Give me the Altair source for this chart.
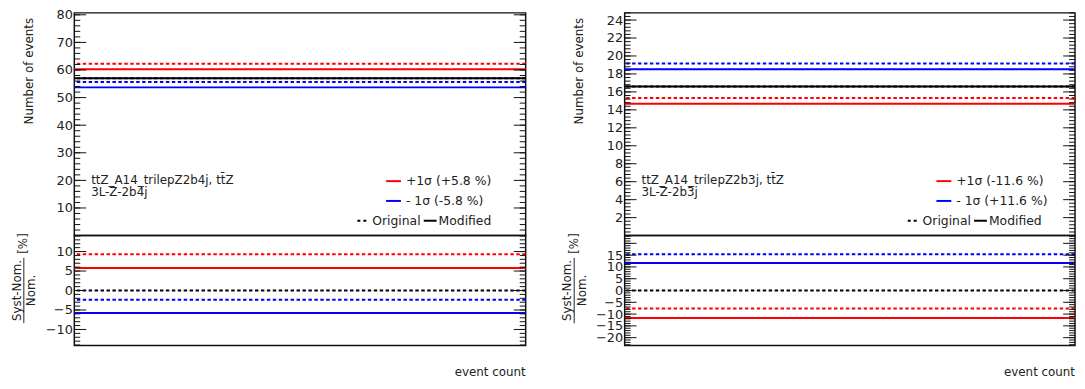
import altair as alt
import numpy as np
import pandas as pd

# ---------------- data ----------------
SERIES = ["nominal", "up", "down"]
COLORS = ["#000000", "#ff0000", "#0000ff"]

LEFT_MOD = [57.0, 60.3, 53.7]        # Modified (solid)
LEFT_ORIG = [57.0, 62.3, 55.65]      # Original (dashed)
RIGHT_MOD = [16.6, 14.67, 18.53]
RIGHT_ORIG = [16.6, 15.33, 19.15]

LEFT_LABEL = ["ttZ_A14_trilepZ2b4j, tt\u0304Z", "3L-Z-2b4j"]
RIGHT_LABEL = ["ttZ_A14_trilepZ2b3j, tt\u0304Z", "3L-Z-2b3j"]
LEFT_LEGEND = ["+1\u03c3 (+5.8 %)", "- 1\u03c3 (-5.8 %)"]
RIGHT_LEGEND = ["+1\u03c3 (-11.6 %)", "- 1\u03c3 (+11.6 %)"]

LEFT_TOP_DOMAIN = [0, 80.7]
RIGHT_TOP_DOMAIN = [0, 24.8]
LEFT_RAT_DOMAIN = [-14.1, 14.1]
RIGHT_RAT_DOMAIN = [-23.3, 23.3]

LEFT_TOP_LABELS = [10, 20, 30, 40, 50, 60, 70, 80]
RIGHT_TOP_LABELS = [2, 4, 6, 8, 10, 12, 14, 16, 18, 20, 22, 24]
LEFT_RAT_LABELS = [-10, -5, 0, 5, 10]
RIGHT_RAT_LABELS = [-20, -15, -10, -5, 0, 5, 10, 15]

# ---------------- layout ----------------
TOP_H = 225
RAT_H = 111
W_L = 456
W_R = 455
FONT = "DejaVu Sans"
TXT = "#222222"
ONE = pd.DataFrame({"k": [0]})


def text(txt, x, y, size=12, align="left", baseline="middle", angle=0):
    return alt.Chart(ONE).mark_text(
        text=txt, font=FONT, fontSize=size, color=TXT, align=align,
        baseline=baseline, angle=angle
    ).encode(x=alt.value(x), y=alt.value(y))


def hseg(x0, x1, y, color, dash=None, width=2):
    kw = dict(color=color, strokeWidth=width)
    if dash:
        kw["strokeDash"] = dash
    return alt.Chart(ONE).mark_rule(**kw).encode(
        x=alt.value(x0), x2=alt.value(x1), y=alt.value(y))


def make_axis(labels):
    return alt.Axis(values=labels, ticks=False, tickSize=0, domain=False, grid=False,
                    title=None, labelFontSize=13, labelFont=FONT, labelColor=TXT,
                    labelPadding=2, format="d", labelFlush=False, labelOverlap=False,
                    labelBound=False)


def ticks(vals, length, yscale, W, axis):
    df = pd.DataFrame({"v": vals})
    base = alt.Chart(df).mark_rule(color="#111111", strokeWidth=1)
    left = base.encode(y=alt.Y("v:Q", scale=yscale, axis=axis),
                       x=alt.value(0), x2=alt.value(length))
    right = base.encode(y=alt.Y("v:Q", scale=yscale, axis=axis),
                        x=alt.value(W), x2=alt.value(W - length))
    return [left, right]


def tick_vals(lo, hi, step):
    n0 = int(np.ceil(lo / step - 1e-9))
    n1 = int(np.floor(hi / step + 1e-9))
    return [round(k * step, 6) for k in range(n0, n1 + 1)]


def lines_df(mod, orig, ratio):
    rows = []
    nom_o = orig[0]
    nom_m = mod[0]
    for s, c, vm, vo in zip(SERIES, COLORS, mod, orig):
        if ratio:
            rows.append({"s": s, "c": c, "kind": "Original", "v": (vo - nom_o) / nom_o * 100})
            if s != "nominal":
                rows.append({"s": s, "c": c, "kind": "Modified", "v": (vm - nom_m) / nom_m * 100})
        else:
            rows.append({"s": s, "c": c, "kind": "Original", "v": vo})
            rows.append({"s": s, "c": c, "kind": "Modified", "v": vm})
    return pd.DataFrame(rows)


def line_layers(df, yscale, axis):
    base = alt.Chart(df)
    dashed = base.transform_filter("datum.kind == 'Original'").mark_rule(
        strokeWidth=2, strokeDash=[3.5, 2.5]).encode(
        y=alt.Y("v:Q", scale=yscale, axis=axis),
        color=alt.Color("c:N", scale=None))
    solid = base.transform_filter("datum.kind == 'Modified'").mark_rule(
        strokeWidth=2).encode(
        y=alt.Y("v:Q", scale=yscale, axis=axis),
        color=alt.Color("c:N", scale=None))
    return [dashed, solid]


def side(mod, orig, W, top_dom, rat_dom, top_labels, rat_labels,
         top_major, top_minor, rat_major, rat_minor, label, legend):
    ys = alt.Scale(domain=top_dom, nice=False, zero=False)
    rs = alt.Scale(domain=rat_dom, nice=False, zero=False)
    ta = make_axis(top_labels)
    ra = make_axis(rat_labels)

    top_layers = []
    top_layers += line_layers(lines_df(mod, orig, False), ys, ta)
    top_layers += ticks(tick_vals(top_dom[0] + 1e-6, top_dom[1], top_minor), 6, ys, W, ta)
    top_layers += ticks(tick_vals(top_dom[0] + 1e-6, top_dom[1], top_major), 12, ys, W, ta)
    top_layers += [
        text("Number of events", -46, 5, align="right", angle=270),
        text(label[0], 17, TOP_H - 56.5),
        text(label[1], 17, TOP_H - 44),
        hseg(315, 330, TOP_H - 55, "#ff0000"),
        text(legend[0], 335, TOP_H - 55, size=12.5),
        hseg(315, 330, TOP_H - 35, "#0000ff"),
        text(legend[1], 335, TOP_H - 35, size=12.5),
        hseg(286, 296, TOP_H - 15, "#000000", dash=[3, 3]),
        text("Original", 301, TOP_H - 15, size=12.5),
        hseg(353, 366, TOP_H - 15, "#000000"),
        text("Modified", 368, TOP_H - 15, size=12.5),
    ]
    top = alt.layer(*top_layers).properties(width=W, height=TOP_H)

    rat_layers = []
    rat_layers += line_layers(lines_df(mod, orig, True), rs, ra)
    rat_layers += ticks(tick_vals(rat_dom[0], rat_dom[1], rat_minor), 6, rs, W, ra)
    rat_layers += ticks(tick_vals(rat_dom[0], rat_dom[1], rat_major), 12, rs, W, ra)
    mid = RAT_H / 2
    rat_layers += [
        text("Syst-Nom.", -58, mid, align="center", angle=270),
        text("Nom.", -43.5, mid, align="center", angle=270),
        alt.Chart(ONE).mark_rule(color=TXT, strokeWidth=1).encode(
            x=alt.value(-51), y=alt.value(mid - 33), y2=alt.value(mid + 33)),
        text("[%]", -51.5, 8, align="center", angle=270),
        text("event count", W, RAT_H + 31, align="right", baseline="alphabetic"),
    ]
    rat = alt.layer(*rat_layers).properties(width=W, height=RAT_H)
    return top, rat


lt, lr = side(LEFT_MOD, LEFT_ORIG, W_L, LEFT_TOP_DOMAIN, LEFT_RAT_DOMAIN,
              LEFT_TOP_LABELS, LEFT_RAT_LABELS, 10, 2, 5, 1, LEFT_LABEL, LEFT_LEGEND)
rt, rr = side(RIGHT_MOD, RIGHT_ORIG, W_R, RIGHT_TOP_DOMAIN, RIGHT_RAT_DOMAIN,
              RIGHT_TOP_LABELS, RIGHT_RAT_LABELS, 2, 0.4, 5, 1, RIGHT_LABEL, RIGHT_LEGEND)

chart = alt.concat(lt, rt, lr, rr, columns=2, bounds="flush",
                   spacing={"row": 0, "column": 100}).properties(
    padding={"left": 2, "top": -2, "right": 0, "bottom": 0},
    background="white",
).configure_view(stroke="#111111", strokeWidth=1.5)

chart.save("out.html", embed_options={"renderer": "svg", "actions": False})
